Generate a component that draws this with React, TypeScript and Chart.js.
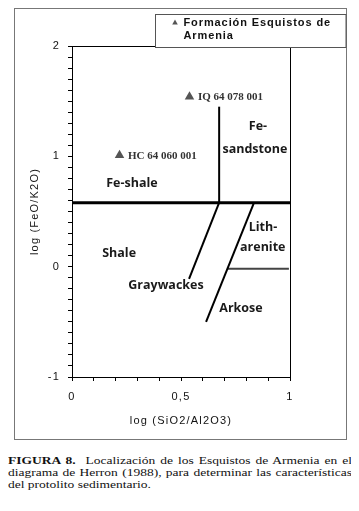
import { useEffect, useRef } from "react";
import { Chart, registerables } from "chart.js";

Chart.register(...registerables);

// Samples (Formación Esquistos de Armenia)
const sampleNames = ["HC 64 060 001", "IQ 64 078 001"];
const sampleX = [0.218, 0.539];
const sampleY = [1.01, 1.54];

// Herron (1988) field boundaries
const feShaleLineX = [0, 1];
const feShaleLineY = [0.58, 0.58];
const feSandLineX = [0.675, 0.675];
const feSandLineY = [0.58, 1.45];
const graywackeLineX = [0.675, 0.537];
const graywackeLineY = [0.58, -0.11];
const arkoseLineX = [0.835, 0.615];
const arkoseLineY = [0.58, -0.5];
const litharLineX = [0.713, 0.995];
const litharLineY = [-0.02, -0.02];

// Field names
const regionLabels = ["Fe-shale", "Fe-", "sandstone", "Shale", "Graywackes", "Lith-", "arenite", "Arkose"];
const regionX = [0.275, 0.853, 0.839, 0.216, 0.431, 0.876, 0.875, 0.775];
const regionY = [0.75, 1.267, 1.059, 0.12, -0.172, 0.356, 0.175, -0.377];

const legendLines = ["Formación Esquistos de", "Armenia"];
const xTitle = "log (SiO2/Al2O3)";
const yTitle = "log (FeO/K2O)";
const xLabeled = [0, 0.5, 1];
const yLabeled = [-1, 0, 1, 2];

const toPts = (xs: number[], ys: number[]) => xs.map((x, i) => ({ x, y: ys[i] }));

export default function App() {
  const ref = useRef<HTMLCanvasElement | null>(null);

  useEffect(() => {
    if (!ref.current) return;

    const decor = {
      id: "decor",
      beforeDraw(chart: any) {
        const ctx = chart.ctx;
        ctx.save();
        ctx.fillStyle = "#fff";
        ctx.fillRect(0, 0, chart.width, chart.height);
        ctx.strokeStyle = "#777";
        ctx.lineWidth = 1;
        ctx.strokeRect(6.5, 0.5, 332, 431);
        ctx.restore();
        ctx.letterSpacing = "1.2px";
      },
      beforeDatasetsDraw(chart: any) {
        const ctx = chart.ctx;
        ctx.letterSpacing = "0px";
        const a = chart.chartArea;
        ctx.save();
        ctx.strokeStyle = "#000";
        ctx.lineWidth = 1;
        ctx.beginPath();
        const l = Math.round(a.left) + 0.5;
        const r = Math.round(a.right) + 0.5;
        const t = Math.round(a.top) + 0.5;
        const b = Math.round(a.bottom) + 0.5;
        ctx.moveTo(l, t);
        ctx.lineTo(r, t);
        ctx.lineTo(r, b);
        ctx.stroke();
        ctx.restore();
      },
      afterDatasetsDraw(chart: any) {
        const ctx = chart.ctx;
        const xs = chart.scales.x;
        const ys = chart.scales.y;
        ctx.save();
        ctx.letterSpacing = "0px";
        ctx.fillStyle = "#1a1a1a";
        ctx.font = "bold 12.5px 'Open Sans'";
        ctx.textAlign = "center";
        ctx.textBaseline = "middle";
        regionLabels.forEach((t, i) => {
          ctx.fillText(t, xs.getPixelForValue(regionX[i]), ys.getPixelForValue(regionY[i]));
        });
        ctx.fillStyle = "#333";
        ctx.font = "bold 11px 'Liberation Serif'";
        ctx.textAlign = "left";
        sampleNames.forEach((t, i) => {
          ctx.fillText(t, xs.getPixelForValue(sampleX[i]) + 8.5, ys.getPixelForValue(sampleY[i]) + 0.5);
        });
        ctx.restore();
      },
      afterDraw(chart: any) {
        const ctx = chart.ctx;
        ctx.save();
        ctx.fillStyle = "#fff";
        ctx.fillRect(147, 6, 191, 33);
        ctx.strokeStyle = "#555";
        ctx.lineWidth = 1;
        ctx.strokeRect(147.5, 6.5, 190.5, 33);
        // marker
        ctx.fillStyle = "#555";
        ctx.beginPath();
        ctx.moveTo(167, 11.5);
        ctx.lineTo(169.8, 16.5);
        ctx.lineTo(164.2, 16.5);
        ctx.closePath();
        ctx.fill();
        ctx.fillStyle = "#111";
        ctx.font = "bold 11px 'Liberation Sans'";
        ctx.letterSpacing = "0.9px";
        ctx.textAlign = "left";
        ctx.textBaseline = "middle";
        ctx.fillText(legendLines[0], 175.5, 15);
        ctx.fillText(legendLines[1], 175.5, 27.5);
        ctx.letterSpacing = "0px";
        ctx.restore();
      },
    };

    const lineDs = (xs: number[], ys: number[], w: number, color = "#000") => ({
      type: "scatter" as const,
      data: toPts(xs, ys),
      showLine: true,
      borderColor: color,
      borderWidth: w,
      pointRadius: 0,
      pointHoverRadius: 0,
      fill: false,
    });

    const tickFont = { family: "'Liberation Sans'", size: 11 };

    const chart = new Chart(ref.current, {
      type: "scatter",
      data: {
        datasets: [
          lineDs(feShaleLineX, feShaleLineY, 3),
          lineDs(feSandLineX, feSandLineY, 2),
          lineDs(graywackeLineX, graywackeLineY, 2),
          lineDs(arkoseLineX, arkoseLineY, 2),
          lineDs(litharLineX, litharLineY, 2, "#444"),
          {
            type: "scatter",
            data: toPts(sampleX, sampleY),
            pointStyle: "triangle",
            pointRadius: 5.5,
            pointBackgroundColor: "#555",
            pointBorderColor: "#555",
            pointBorderWidth: 0,
            showLine: false,
          } as any,
        ],
      },
      options: {
        animation: false,
        responsive: false,
        events: [],
        layout: { padding: { top: 38, right: 61, bottom: 0, left: 0 } },
        plugins: { legend: { display: false }, tooltip: { enabled: false } },
        scales: {
          x: {
            type: "linear",
            min: 0,
            max: 1,
            afterFit: (s: any) => {
              s.height = 67;
            },
            ticks: {
              stepSize: 0.1,
              maxTicksLimit: 100,
              autoSkip: false,
              maxRotation: 0,
              padding: 9,
              color: "#111",
              font: tickFont,
              callback: (v: any) => {
                const n = Number(v);
                const hit = xLabeled.find((t) => Math.abs(t - n) < 1e-6);
                return hit === undefined ? "" : String(hit).replace(".", ",");
              },
            },
            grid: { drawOnChartArea: false, drawTicks: true, tickLength: 4, color: "#000" },
            border: { display: true, color: "#000", width: 1 },
            title: {
              display: true,
              text: xTitle,
              color: "#111",
              font: { family: "'Liberation Sans'", size: 11 },
              padding: { top: 0, bottom: 16 },
            },
          },
          y: {
            type: "linear",
            min: -1,
            max: 2,
            afterFit: (s: any) => {
              s.width = 64;
            },
            ticks: {
              stepSize: 0.1,
              maxTicksLimit: 100,
              autoSkip: false,
              padding: 8,
              color: "#111",
              font: tickFont,
              callback: (v: any) => {
                const n = Number(v);
                const hit = yLabeled.find((t) => Math.abs(t - n) < 1e-6);
                return hit === undefined ? "" : String(hit);
              },
            },
            grid: { drawOnChartArea: false, drawTicks: true, tickLength: 4, color: "#000" },
            border: { display: true, color: "#000", width: 1 },
            title: {
              display: true,
              text: yTitle,
              color: "#111",
              font: { family: "'Liberation Sans'", size: 11 },
              padding: { top: 20, bottom: 0 },
            },
          },
        },
      },
      plugins: [decor],
    });

    return () => chart.destroy();
  }, []);

  const lineStyle: any = { textAlign: "justify", textAlignLast: "justify", whiteSpace: "nowrap" };

  return (
    <div>
      <canvas ref={ref} width={343} height={436} style={{ display: "block", width: 343, height: 436 }} />
      <div
        style={{
          width: 344,
          marginTop: 11,
          fontFamily: "'Liberation Serif', serif",
          fontSize: 13.5,
          lineHeight: "14.6px",
          color: "#111",
          transform: "scaleY(0.82)",
          transformOrigin: "top left",
        }}
      >
        <div style={lineStyle}>
          <b>FIGURA 8.</b>&nbsp; Localización de los Esquistos de Armenia en el
        </div>
        <div style={lineStyle}>diagrama de Herron (1988), para determinar las características</div>
        <div>del protolito sedimentario.</div>
      </div>
    </div>
  );
}
